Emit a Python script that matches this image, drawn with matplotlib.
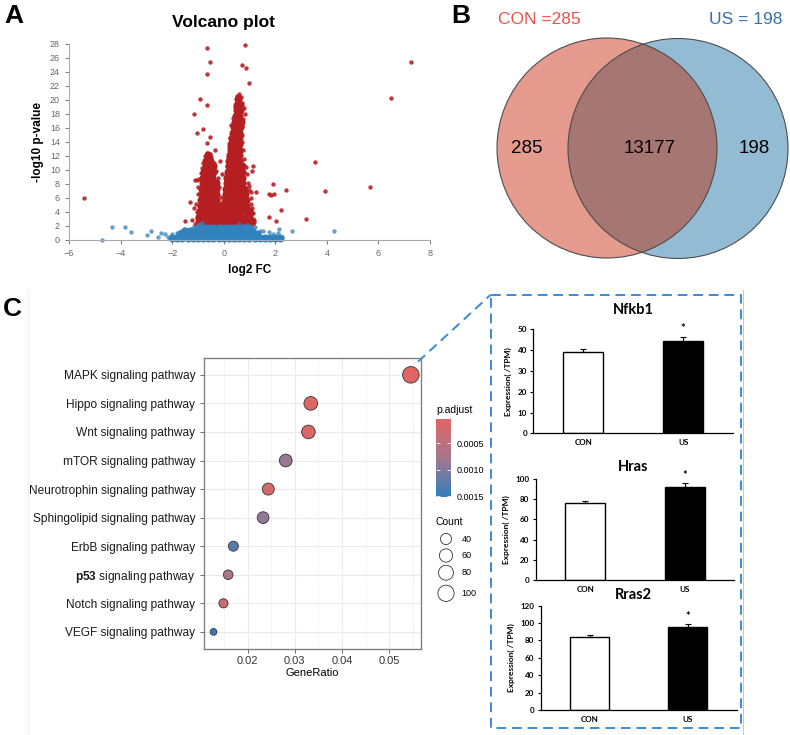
import numpy as np
import matplotlib.pyplot as plt
from matplotlib.colors import LinearSegmentedColormap, Normalize
from matplotlib.cm import ScalarMappable
from matplotlib.patches import Circle
from matplotlib.ticker import FixedLocator

plt.rcParams['font.family'] = 'Liberation Sans'
plt.rcParams['mathtext.fontset'] = 'custom'
plt.rcParams['mathtext.rm'] = 'Liberation Sans'
plt.rcParams['mathtext.bf'] = 'Liberation Sans:bold'

W, H = 790, 735

# ---------------- A: volcano (log2 FC, -log10 p) ----------------
# significant genes, read one by one
red_pts = [(-5.40, 5.93), (-0.65, 27.4), (-0.53, 25.4), (-0.65, 23.7), (0.83, 27.8),
           (0.71, 25.0), (0.88, 24.6), (0.97, 22.4), (-0.93, 20.1), (-0.66, 19.2),
           (-1.14, 18.0), (-0.79, 15.9), (-1.02, 15.3), (-0.54, 14.7), (-0.63, 13.8),
           (-0.35, 12.8), (6.50, 20.3), (7.25, 25.4), (3.53, 11.15), (3.91, 6.98),
           (5.66, 7.55), (3.19, 3.0), (2.42, 7.1), (1.91, 8.0), (1.74, 6.5), (1.85, 6.4),
           (1.96, 6.6), (2.24, 4.3), (2.04, 2.7), (1.77, 3.3), (1.12, 10.5), (1.10, 9.9),
           (1.00, 7.7), (1.06, 6.8), (1.25, 6.8), (1.09, 3.8), (1.19, 2.85), (1.19, 2.5),
           (-0.14, 11.3), (-0.07, 9.35), (-1.29, 5.45), (-1.16, 4.5), (-1.50, 2.7),
           (-1.24, 2.8), (-1.10, 8.5), (-1.03, 8.6),
           # rim of the two dense clouds
           (-1.05, 4.0), (-1.08, 5.2), (-1.0, 6.5), (-0.98, 7.5), (-0.95, 8.7), (-0.9, 9.5),
           (-0.85, 10.3), (-0.8, 11.0), (-0.72, 12.0), (-0.66, 12.4), (-0.55, 12.2),
           (-0.5, 11.8), (-0.38, 11.0), (-0.3, 9.8), (-0.22, 8.8), (-0.18, 7.6),
           (-0.12, 6.2), (-0.05, 5.4), (0.0, 6.0), (0.05, 7.4), (0.1, 9.2), (0.12, 10.6),
           (0.15, 11.8), (0.2, 13.2), (0.25, 14.5), (0.3, 16.4), (0.35, 17.4), (0.42, 19.0),
           (0.5, 20.6), (0.6, 20.8), (0.66, 20.4), (0.72, 19.6), (0.78, 18.8), (0.82, 18.0),
           (0.75, 17.2), (0.7, 16.2), (0.72, 15.0), (0.7, 14.0), (0.75, 12.8), (0.8, 11.6),
           (0.88, 10.4), (0.92, 9.4), (0.95, 8.2), (1.0, 7.2), (1.05, 6.0), (1.05, 5.2),
           (1.1, 4.6), (1.12, 3.8), (1.15, 3.0), (1.12, 2.3), (-1.1, 2.3), (-1.05, 3.2)]

# dense significant cloud, row by row (-log10 p : log2 FC values)
red_cloud = {
    2.5: [-0.95, -0.75, -0.55, -0.35, -0.15, 0.05, 0.25, 0.45, 0.65, 0.85, 1.0],
    3.3: [-0.95, -0.75, -0.55, -0.35, -0.15, 0.05, 0.25, 0.45, 0.65, 0.85, 1.0],
    4.1: [-0.92, -0.72, -0.52, -0.32, -0.15, 0.05, 0.25, 0.45, 0.65, 0.85, 0.98],
    4.9: [-0.9, -0.7, -0.5, -0.3, -0.18, 0.06, 0.26, 0.46, 0.66, 0.86],
    5.7: [-0.88, -0.68, -0.5, -0.3, 0.08, 0.28, 0.48, 0.68, 0.85],
    6.5: [-0.86, -0.66, -0.48, -0.3, 0.1, 0.3, 0.5, 0.7, 0.84],
    7.3: [-0.84, -0.64, -0.46, -0.3, 0.1, 0.3, 0.5, 0.7, 0.8],
    8.1: [-0.82, -0.62, -0.44, -0.3, 0.12, 0.32, 0.52, 0.72],
    8.9: [-0.8, -0.6, -0.44, 0.14, 0.34, 0.54, 0.72],
    9.7: [-0.75, -0.58, -0.42, 0.16, 0.36, 0.56, 0.7],
    10.5: [-0.7, -0.55, -0.42, 0.2, 0.4, 0.6, 0.7],
    11.3: [-0.68, -0.55, 0.22, 0.42, 0.6],
    12.1: [-0.62, 0.25, 0.44, 0.6],
    12.9: [0.28, 0.46, 0.58],
    13.7: [0.3, 0.46, 0.58],
    14.5: [0.34, 0.48, 0.6],
    15.3: [0.36, 0.5, 0.6],
    16.1: [0.38, 0.52, 0.62],
    16.9: [0.42, 0.56, 0.66],
    17.7: [0.46, 0.6],
    18.5: [0.5, 0.64],
    19.3: [0.52, 0.62],
    20.1: [0.56],
}

# non-significant genes
blue_pts = [(-4.73, 0.0), (-4.33, 1.8), (-3.84, 1.85), (-3.58, 1.1), (-2.98, 0.76),
            (-2.83, 1.23), (-2.56, 0.47), (-2.43, 0.95), (-2.26, 0.9), (-2.17, 0.47),
            (-2.0, 0.85), (2.65, 1.23), (4.29, 1.23), (2.16, 1.5), (2.09, 1.05), (1.9, 0.85),
            (1.74, 1.1), (1.54, 1.23), (1.42, 1.33), (2.26, 0.38), (2.03, 0.24),
            (-1.64, 1.33), (-1.82, 1.05), (-1.46, 1.42), (-0.95, 2.35), (-0.85, 2.45),
            (0.6, 2.3), (0.9, 2.2), (1.2, 1.9), (-1.2, 1.9), (-1.55, 1.55)]

blue_cloud = {
    0.25: [-2.0, -1.8, -1.6, -1.4, -1.2, -1.0, -0.8, -0.6, -0.4, -0.2, 0.0, 0.2, 0.4,
           0.6, 0.8, 1.0, 1.2, 1.4, 1.6, 1.8, 2.0, 2.2],
    0.8: [-1.7, -1.5, -1.3, -1.1, -0.9, -0.7, -0.5, -0.3, -0.1, 0.1, 0.3, 0.5, 0.7, 0.9,
          1.1, 1.3],
    1.3: [-1.5, -1.3, -1.1, -0.9, -0.7, -0.5, -0.3, -0.1, 0.1, 0.3, 0.5, 0.7, 0.9, 1.1],
    1.75: [-1.0, -0.8, -0.6, -0.4, -0.2, 0.0, 0.2, 0.4, 0.6, 0.8, 1.0],
}

# ---------------- B: venn ----------------
venn_sets = ['CON', 'US']
venn_counts = [285, 13177, 198]   # CON only, both, US only

# ---------------- C: KEGG dot plot ----------------
pathways = ['MAPK signaling pathway', 'Hippo signaling pathway', 'Wnt signaling pathway',
            'mTOR signaling pathway', 'Neurotrophin signaling pathway',
            'Sphingolipid signaling pathway', 'ErbB signaling pathway',
            r'$\mathbf{p53}$ signaling pathway', 'Notch signaling pathway',
            'VEGF signaling pathway']
gene_ratio = [0.0546, 0.0334, 0.0329, 0.0281, 0.0244, 0.0233, 0.0170, 0.0159, 0.0149, 0.0128]
counts = [104, 64, 63, 54, 47, 45, 33, 31, 29, 24]
padj = [0.00004, 0.00008, 0.00010, 0.00085, 0.00020, 0.00090, 0.00128, 0.00065, 0.00030, 0.00151]
legend_counts = [40, 60, 80, 100]

# bar charts (TPM)
genes = ['Nfkb1', 'Hras', 'Rras2']
groups = ['CON', 'US']
con_mean = [39.3, 75.9, 84.5]
con_sem = [1.4, 2.2, 1.3]
us_mean = [44.6, 92.1, 95.3]
us_sem = [1.9, 4.2, 4.0]
y_top = [50, 100, 120]
y_step = [10, 20, 20]

RED = '#b51f22'
BLUE = '#3182bd'
BOX_BLUE = '#3a8ad6'


def px_box(left, top, right, bottom):
    return [left / W, 1 - bottom / H, (right - left) / W, (bottom - top) / H]


def rows_to_xy(rows):
    xs, ys = [], []
    for yv, xlist in rows.items():
        xs += xlist
        ys += [yv] * len(xlist)
    return xs, ys


fig = plt.figure(figsize=(W / 100, H / 100), dpi=100)

# ---- A
ax_v = fig.add_axes(px_box(69, 43.7, 430, 240))
rx, ry = np.array(red_pts).T
cx, cy = rows_to_xy(red_cloud)
ax_v.scatter(cx, cy, s=34, color=RED, lw=0, clip_on=False)
ax_v.scatter(rx, ry, s=10, color=RED, alpha=0.9, lw=0, clip_on=False)
bx, by = np.array(blue_pts).T
bcx, bcy = rows_to_xy(blue_cloud)
ax_v.scatter(bcx, bcy, s=34, color=BLUE, lw=0, clip_on=False)
ax_v.scatter(bx, by, s=10, color=BLUE, alpha=0.75, lw=0, clip_on=False)
ax_v.set_xlim(-6, 8)
ax_v.set_ylim(0, 28)
ax_v.set_xticks(range(-6, 9, 2))
ax_v.set_yticks(range(0, 29, 2))
for s in ['top', 'right']:
    ax_v.spines[s].set_visible(False)
for s in ['left', 'bottom']:
    ax_v.spines[s].set_color('#aaaaaa')
    ax_v.spines[s].set_linewidth(0.8)
ax_v.tick_params(labelsize=6.5, colors='#666666', length=3, width=0.6)
ax_v.set_xlabel('log2 FC', fontsize=8.5, fontweight='bold', labelpad=4)
ax_v.set_ylabel('-log10 p-value', fontsize=8.5, fontweight='bold', labelpad=4)

# ---- C: dot plot
n = len(pathways)
ypos = np.arange(n, 0, -1)
cmap = LinearSegmentedColormap.from_list('padj', ['#e06663', '#a5778e', '#327eba'])
norm = Normalize(vmin=min(padj), vmax=max(padj))
cmin, cmax = min(counts), max(counts)


def dot_size(c):
    d_px = 6.7 + 9.8 * np.sqrt((np.asarray(c, float) - cmin) / (cmax - cmin))
    return (d_px * 72 / 100) ** 2


ax_d = fig.add_axes(px_box(204, 357.7, 420.7, 649))
ax_d.scatter(gene_ratio, ypos, s=dot_size(counts), c=padj, cmap=cmap, norm=norm,
             edgecolors='#333333', linewidths=0.6, zorder=3, clip_on=False)
ax_d.set_xlim(0.01078, 0.05669)
ax_d.set_ylim(0.4, n + 0.6)
ax_d.set_xticks([0.02, 0.03, 0.04, 0.05], ['0.02', '0.03', '0.04', '0.05'])
ax_d.xaxis.set_minor_locator(FixedLocator([0.015, 0.025, 0.035, 0.045, 0.055]))
ax_d.set_yticks(ypos, pathways)
ax_d.grid(which='major', color='#ebebeb', lw=0.8)
ax_d.grid(which='minor', axis='x', color='#f2f2f2', lw=0.6)
ax_d.set_axisbelow(True)
for s in ax_d.spines.values():
    s.set_color('#808080')
    s.set_linewidth(1.0)
ax_d.tick_params(which='major', color='#555555', length=2.75, width=0.6, pad=3.5)
ax_d.tick_params(which='minor', length=0)
ax_d.tick_params(axis='y', labelsize=8.6, labelcolor='#1a1a1a')
ax_d.tick_params(axis='x', labelsize=8, labelcolor='#333333', pad=2)
ax_d.set_xlabel('GeneRatio', fontsize=8, labelpad=1.5)

cax = fig.add_axes(px_box(436, 419, 451, 496.7))
cb = fig.colorbar(ScalarMappable(norm=norm, cmap=cmap), cax=cax)
cb.outline.set_visible(False)
cb.set_ticks([0.0005, 0.0010, 0.0015], labels=['0.0005', '0.0010', '0.0015'])
cax.invert_yaxis()
cax.tick_params(direction='in', color='white', length=3, width=0.6, labelsize=6.5,
                left=True, right=True, pad=4)

# ---- bar charts
bar_boxes = [(533.3, 329.3, 733, 433.3), (535.7, 479, 734.3, 580), (540.7, 605.7, 736.7, 710)]
title_pos = [(633, 310), (633, 466.7), (633, 595)]
for i, gene in enumerate(genes):
    ax = fig.add_axes(px_box(*bar_boxes[i]))
    means = [con_mean[i], us_mean[i]]
    errs = [con_sem[i], us_sem[i]]
    ax.bar([0, 1], means, width=0.4, color=['white', 'black'], edgecolor='black', lw=1.0)
    ax.errorbar([0, 1], means, yerr=[[0, 0], errs], fmt='none', ecolor='black',
                elinewidth=0.8, capsize=2, capthick=0.8)
    ax.annotate('*', xy=(1, means[1] + errs[1]), xytext=(0, 1.5), textcoords='offset points',
                ha='center', va='bottom', fontsize=8, fontweight='bold', family='Lato')
    ax.set_xlim(-0.5, 1.5)
    ax.set_ylim(0, y_top[i])
    ax.set_yticks(range(0, y_top[i] + 1, y_step[i]))
    ax.set_xticks([0, 1], groups)
    for s in ['top', 'right']:
        ax.spines[s].set_visible(False)
    for s in ['left', 'bottom']:
        ax.spines[s].set_linewidth(0.9)
    ax.tick_params(axis='x', length=0, pad=4)
    ax.tick_params(axis='y', length=2.5, width=0.8, pad=2)
    for lab in ax.get_xticklabels() + ax.get_yticklabels():
        lab.set_fontsize(5.8)
        lab.set_fontweight('bold')
        lab.set_family('Lato')
    ax.set_ylabel('Expression( /TPM)', fontsize=6, fontweight='bold', family='Lato', labelpad=4)
    fig.text(title_pos[i][0] / W, 1 - title_pos[i][1] / H, gene, fontsize=10.5,
             fontweight='bold', family='Lato', ha='center', va='center')

# ---- overlay: venn, letters, frame
ov = fig.add_axes([0, 0, 1, 1])
ov.set_xlim(0, W)
ov.set_ylim(H, 0)
ov.axis('off')
ov.patch.set_alpha(0)

c_con = Circle((607, 148), 110, facecolor='#e59a8e', edgecolor='none')
c_us = Circle((678, 148.5), 110, facecolor='#93bcd4', edgecolor='none')
ov.add_patch(c_us)
ov.add_patch(c_con)
c_both = Circle((607, 148), 110, facecolor='#a57672', edgecolor='none')
ov.add_patch(c_both)
c_both.set_clip_path(c_us)
for c in [(607, 148), (678, 148.5)]:
    ov.add_patch(Circle(c, 110, facecolor='none', edgecolor='#4d4d4d', lw=0.8))
ov.text(527, 148, str(venn_counts[0]), fontsize=13.5, ha='center', va='center')
ov.text(650, 148, str(venn_counts[1]), fontsize=13.5, ha='center', va='center')
ov.text(754, 148, str(venn_counts[2]), fontsize=13.5, ha='center', va='center')
ov.text(539, 19, f'{venn_sets[0]} ={venn_counts[0]}', fontsize=12.5, color='#e8544b',
        ha='center', va='center')
ov.text(746, 19, f'{venn_sets[1]} = {venn_counts[2]}', fontsize=12.5, color='#3a70a8',
        ha='center', va='center')

ov.text(224, 22, 'Volcano plot', fontsize=12.5, fontweight='bold', ha='center', va='center')
ov.text(13.5, 16, 'A', fontsize=19, fontweight='bold', ha='center', va='center')
ov.text(461, 16, 'B', fontsize=19, fontweight='bold', ha='center', va='center')
ov.text(12.7, 309, 'C', fontsize=19, fontweight='bold', ha='center', va='center')

ov.text(436, 410, 'p.adjust', fontsize=7.5, ha='left', va='center')
ov.text(436, 521.7, 'Count', fontsize=7.5, ha='left', va='center')
leg_y = [539, 555.5, 572.7, 593.3]
ov.scatter([446] * len(legend_counts), leg_y, s=dot_size(legend_counts),
           facecolors='white', edgecolors='#333333', linewidths=0.6)
for yv, c in zip(leg_y, legend_counts):
    ov.text(461.7, yv, str(c), fontsize=6.5, ha='left', va='center')

ov.plot([28, 28], [290, 735], color='#f2f2f2', lw=0.8)
ov.plot([743, 743], [290, 735], color='#c8c8c8', lw=0.8)
ov.plot([490.7, 740.5, 740.5, 490.7, 490.7], [294.7, 294.7, 728, 728, 294.7],
        color=BOX_BLUE, lw=1.4, ls=(0, (5, 3)))
ov.plot([418, 490.7], [361.7, 294.7], color=BOX_BLUE, lw=1.4, ls=(0, (5, 3)))

fig.savefig('out.png', dpi=100)
